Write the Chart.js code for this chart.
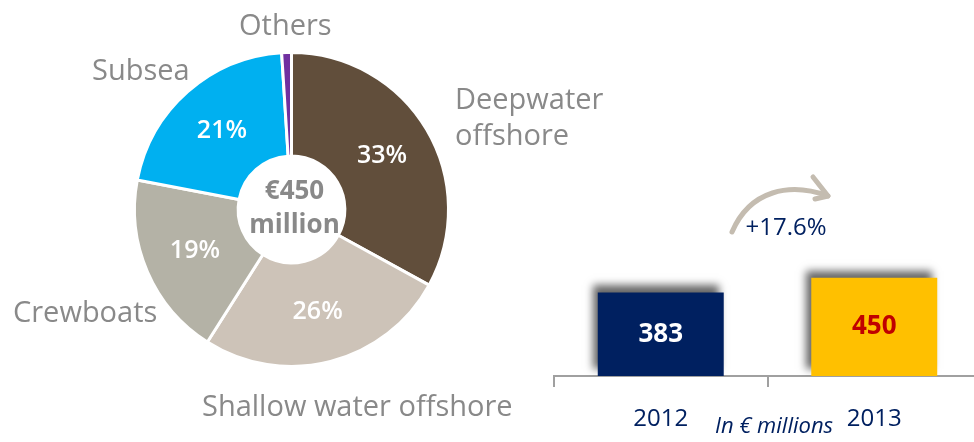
<!DOCTYPE html>
<html>
<head>
<meta charset="utf-8">
<script src="https://cdn.jsdelivr.net/npm/chart.js@4.4.0/dist/chart.umd.min.js"></script>
<style>
  html, body { margin: 0; padding: 0; background: #fff; overflow: hidden; }
  body { width: 974px; height: 442px; position: relative; }
  #mixChart { position: absolute; left: 0; top: 0; }
  #revenueChart { position: absolute; left: 540px; top: 150px; }
</style>
</head>
<body>
<canvas id="mixChart" width="640" height="442"></canvas>
<canvas id="revenueChart" width="460" height="292"></canvas>
<script>
// revenue split by segment (%)
const segments = ['Deepwater offshore', 'Shallow water offshore', 'Crewboats', 'Subsea', 'Others'];
const shares = [33, 26, 19, 21, 1];
const segmentColors = ['#614e3b', '#cdc3b8', '#b4b2a6', '#00b0f0', '#7030a0'];

// revenue per year, in EUR millions
const years = ['2012', '2013'];
const revenue = [383, 450];
const barColors = ['#002060', '#ffc000'];
const valueColors = ['#ffffff', '#c00000'];
const growth = '+17.6%';

const FONT = '"Open Sans", "Noto Sans", sans-serif';
const GREY = '#898989';
const NAVY = '#002060';

// where each segment name sits around the ring
const labelSpots = [
  { x: 455, y: 109, wrap: true },
  { x: 202, y: 416 },
  { x: 13, y: 322 },
  { x: 92, y: 80 },
  { x: 239, y: 35 }
];

const ringText = {
  id: 'ringText',
  afterDatasetsDraw(chart) {
    const ctx = chart.ctx;
    const arcs = chart.getDatasetMeta(0).data;
    ctx.save();

    // percentages inside the slices
    ctx.textAlign = 'center';
    ctx.textBaseline = 'middle';
    ctx.fillStyle = '#ffffff';
    ctx.font = '600 25px ' + FONT;
    arcs.forEach((arc, i) => {
      if (shares[i] < 5) return;
      const p = arc.tooltipPosition();
      ctx.fillText(shares[i] + '%', p.x, p.y);
    });

    // total in the hole
    const cx = arcs[0].x + 3, cy = arcs[0].y;
    ctx.fillStyle = GREY;
    ctx.font = 'bold 26px ' + FONT;
    ctx.fillText('€' + revenue[revenue.length - 1], cx, cy - 18);
    ctx.fillText('million', cx, cy + 16);

    // segment names
    ctx.textAlign = 'left';
    ctx.textBaseline = 'alphabetic';
    ctx.font = '29px ' + FONT;
    segments.forEach((name, i) => {
      const spot = labelSpots[i];
      const lines = spot.wrap ? [name.slice(0, name.indexOf(' ')), name.slice(name.indexOf(' ') + 1)] : [name];
      lines.forEach((line, j) => ctx.fillText(line, spot.x, spot.y + j * 36));
    });
    ctx.restore();
  }
};

new Chart(document.getElementById('mixChart'), {
  type: 'doughnut',
  data: {
    labels: segments,
    datasets: [{
      data: shares,
      backgroundColor: segmentColors,
      borderColor: '#ffffff',
      borderWidth: 3
    }]
  },
  options: {
    responsive: false,
    animation: false,
    cutout: '34%',
    layout: { padding: { left: 133, right: 190, top: 51, bottom: 74 } },
    plugins: { legend: { display: false }, tooltip: { enabled: false } }
  },
  plugins: [ringText]
});

// soft shadow up and to the left of each bar
const barShadow = {
  id: 'barShadow',
  beforeDatasetDraw(chart) {
    const ctx = chart.ctx;
    ctx.save();
    ctx.shadowColor = 'rgba(0, 0, 0, 0.6)';
    ctx.shadowBlur = 8;
    ctx.shadowOffsetX = -5;
    ctx.shadowOffsetY = -7;
  },
  afterDatasetDraw(chart) {
    chart.ctx.restore();
  }
};

const barText = {
  id: 'barText',
  afterDatasetsDraw(chart) {
    const ctx = chart.ctx;
    const bars = chart.getDatasetMeta(0).data;
    ctx.save();
    ctx.textAlign = 'center';
    ctx.textBaseline = 'middle';
    ctx.font = 'bold 26px ' + FONT;
    bars.forEach((bar, i) => {
      const p = bar.getCenterPoint();
      ctx.fillStyle = valueColors[i];
      ctx.fillText(String(revenue[i]), p.x, p.y);
    });

    // growth arrow
    ctx.strokeStyle = '#c4bcb0';
    ctx.lineWidth = 5;
    ctx.lineCap = 'round';
    ctx.lineJoin = 'round';
    ctx.beginPath();
    ctx.moveTo(192, 82);
    ctx.bezierCurveTo(210, 40, 250, 32, 288, 46);
    ctx.stroke();
    ctx.beginPath();
    ctx.moveTo(273, 27);
    ctx.lineTo(288, 46);
    ctx.lineTo(275, 49);
    ctx.stroke();

    ctx.textBaseline = 'alphabetic';
    ctx.fillStyle = NAVY;
    ctx.font = '24px ' + FONT;
    ctx.fillText(growth, 246, 85);
    ctx.font = 'italic 22px ' + FONT;
    ctx.fillText('In € millions', 234, 283);
    ctx.restore();
  }
};

new Chart(document.getElementById('revenueChart'), {
  type: 'bar',
  data: {
    labels: years,
    datasets: [{
      data: revenue,
      backgroundColor: barColors,
      borderWidth: 0,
      categoryPercentage: 1,
      barPercentage: 0.59
    }]
  },
  options: {
    responsive: false,
    animation: false,
    layout: { padding: { left: 14, right: 19, top: 95, bottom: 0 } },
    scales: {
      x: {
        afterFit(scale) { scale.height = 66; },
        grid: { offset: true, drawOnChartArea: false, drawTicks: true, tickLength: 11, color: '#a0a0a0', lineWidth: 2 },
        border: { display: true, color: '#a0a0a0', width: 2 },
        ticks: { color: NAVY, font: { family: FONT, size: 24 }, padding: 18 }
      },
      y: { display: false, min: 0, max: 600 }
    },
    plugins: { legend: { display: false }, tooltip: { enabled: false } }
  },
  plugins: [barShadow, barText]
});
</script>
</body>
</html>
